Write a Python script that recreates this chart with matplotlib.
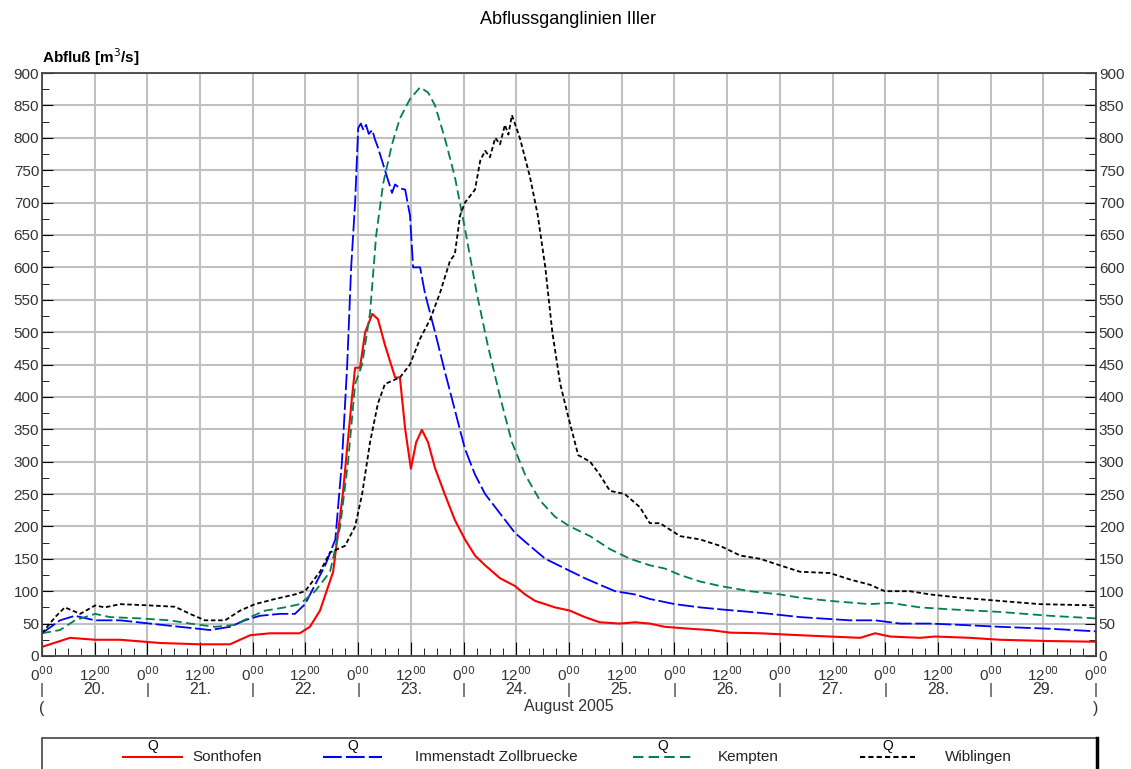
import matplotlib.pyplot as plt
from matplotlib.lines import Line2D
from matplotlib.patches import Rectangle
from matplotlib.ticker import MultipleLocator
import matplotlib.transforms as mtransforms

plt.rcParams['font.family'] = ['Liberation Sans', 'DejaVu Sans']

# Stunden seit 20.08.2005 0:00, Abfluss in m3/s
t_sont = [0, 6.4, 12.1, 17.8, 26.9, 36.0, 42.8, 45.1, 47.4, 51.9, 58.7, 61.0, 63.3, 66.3, 68.5, 70.6,
          71.3, 72.4, 73.6, 75.2, 76.5, 78.1, 80.4, 81.5, 82.7, 84.0, 85.2, 86.5, 87.9, 89.5, 91.7,
          94.0, 96.3, 98.6, 100.9, 104.3, 107.7, 110.0, 112.3, 116.8, 120.2, 123.6, 127.0, 131.6,
          135.0, 138.4, 141.8, 147.5, 152.1, 156.7, 163.5, 172.6, 179.4, 186.3, 189.7, 193.1,
          199.9, 203.3, 211.3, 218.1, 229.5, 240]
q_sont = [14, 28, 25, 25, 20, 18, 18, 25, 32, 35, 35, 45, 70, 130, 250, 400,
          445, 445, 500, 528, 520, 480, 430, 430, 350, 289, 330, 349, 330, 290, 250,
          210, 180, 155, 140, 120, 108, 95, 85, 75, 70, 60, 52, 50,
          52, 50, 45, 42, 40, 36, 35, 32, 30, 28, 35, 30,
          28, 30, 28, 25, 23, 22]

t_imm = [0, 4.1, 7.5, 12.1, 17.8, 24.6, 31.4, 38.3, 42.8, 46.2, 49.6, 54.2, 57.6, 59.9, 62.2, 64.5,
         66.8, 68.3, 69.5, 70.4, 71.3, 72.0, 72.6, 73.2, 73.8, 74.4, 75.2, 75.8, 76.5, 78.1, 79.7, 80.4,
         81.5, 82.7, 83.8, 84.5, 86.1, 87.2, 89.5, 91.7, 94.0, 96.3, 98.6, 100.9, 104.3, 107.7, 111.1,
         114.6, 119.1, 123.6, 127.0, 130.5, 135.0, 138.4, 144.1, 149.8, 154.4, 161.2, 165.8, 172.6,
         184.0, 189.7, 195.4, 202.2, 209.1, 218.1, 229.5, 240]
q_imm = [35, 55, 62, 55, 55, 50, 45, 40, 45, 55, 62, 65, 65, 80, 110, 140,
         180, 300, 450, 600, 700, 815, 822, 812, 820, 806, 812, 798, 785, 750, 715, 728,
         722, 720, 680, 600, 600, 560, 500, 440, 380, 320, 280, 250, 220, 190, 170,
         150, 135, 120, 110, 100, 95, 88, 80, 75, 72, 68, 65, 60,
         55, 55, 50, 50, 48, 45, 42, 38]

t_kem = [0, 4.1, 7.5, 12.1, 15.5, 22.3, 29.1, 33.7, 39.4, 43.9, 47.4, 50.8, 55.3, 58.7, 62.2, 65.6,
         67.9, 69.7, 71.3, 72.9, 74.7, 76.1, 77.7, 79.7, 81.5, 83.8, 86.1, 87.9, 89.5, 91.7, 94.0,
         96.3, 99.0, 101.5, 104.3, 107.0, 110.0, 113.4, 116.8, 120.2, 124.8, 129.3, 133.9, 138.4,
         141.8, 145.3, 149.8, 154.4, 161.2, 168.0, 172.6, 179.4, 188.5, 193.1, 199.9, 206.7,
         218.1, 229.5, 240]
q_kem = [35, 40, 55, 65, 60, 58, 55, 50, 45, 48, 60, 70, 75, 80, 100, 130,
         200, 300, 420, 450, 530, 650, 730, 790, 830, 860, 878, 870, 850, 800, 740,
         660, 560, 480, 400, 330, 280, 240, 215, 200, 185, 165, 150, 140,
         135, 125, 115, 108, 100, 95, 90, 85, 80, 82, 75, 72,
         68, 62, 58]

t_wib = [0, 3.0, 5.2, 8.7, 12.1, 14.3, 17.8, 24.6, 30.3, 33.7, 37.1, 41.7, 45.1, 48.5, 53.1, 57.6,
         59.9, 63.3, 65.6, 69.0, 71.3, 72.9, 74.7, 76.5, 78.1, 81.5, 83.8, 86.1, 88.4, 90.6, 92.9,
         94.0, 95.2, 96.3, 98.6, 99.8, 100.9, 102.0, 103.2, 104.3, 105.4, 106.2, 107.0, 108.8,
         111.1, 112.9, 114.6, 116.2, 118.0, 119.8, 122.1, 124.8, 127.0, 129.3, 132.7, 136.1,
         138.4, 140.7, 143.0, 145.3, 149.8, 154.4, 159.0, 163.5, 168.0, 172.6, 179.4, 184.0,
         188.5, 191.9, 197.6, 202.2, 209.1, 218.1, 227.2, 240]
q_wib = [35, 60, 75, 65, 78, 75, 80, 78, 76, 65, 55, 55, 70, 80, 88, 95,
         100, 130, 160, 170, 200, 250, 330, 390, 420, 430, 450, 490, 520, 560, 610,
         620, 680, 700, 720, 765, 780, 770, 800, 790, 820, 805, 835, 800,
         740, 680, 600, 500, 420, 370, 310, 300, 280, 255, 250, 230,
         205, 205, 195, 185, 180, 170, 155, 150, 140, 130, 128, 118,
         110, 100, 100, 95, 90, 85, 80, 78]

tage = ['20.', '21.', '22.', '23.', '24.', '25.', '26.', '27.', '28.', '29.']

fig = plt.figure(figsize=(11.31, 7.69), dpi=100)
ax = fig.add_axes([0.0371, 0.147, 0.932, 0.758])

ax.plot(t_sont, q_sont, color='#ff0000', lw=1.5)
ax.plot(t_imm, q_imm, color='#0000ff', lw=1.3, dashes=(9, 2))
ax.plot(t_kem, q_kem, color='#00804a', lw=1.3, dashes=(5, 2.5))
ax.plot(t_wib, q_wib, color='black', lw=1.3, dashes=(2.5, 1.5))

ax.set_xlim(0, 240)
ax.set_ylim(0, 900)
ax.yaxis.set_major_locator(MultipleLocator(50))
ax.yaxis.set_minor_locator(MultipleLocator(25))
ax.xaxis.set_major_locator(MultipleLocator(12))
ax.xaxis.set_minor_locator(MultipleLocator(3))
ax.grid(True, which='major', color='#c0c0c0', lw=1.5)
ax.set_axisbelow(True)

ax.tick_params(axis='y', which='both', direction='in', left=True, right=True,
               labelleft=True, labelright=True, labelsize=11, pad=2, labelcolor='#333333')
ax.tick_params(axis='y', which='major', length=8)
ax.tick_params(axis='y', which='minor', length=5)
ax.tick_params(axis='x', which='both', direction='in', top=False, labelsize=11, pad=7, labelcolor='#333333')
ax.tick_params(axis='x', which='major', length=10)
ax.tick_params(axis='x', which='minor', length=6)
ax.set_xticks(range(0, 241, 12))
ax.set_xticklabels(['0$^{00}$' if h % 24 == 0 else '12$^{00}$' for h in range(0, 241, 12)])
for s in ax.spines.values():
    s.set_color('#444444')
    s.set_linewidth(1.3)

trans = mtransforms.blended_transform_factory(ax.transData, fig.transFigure)
for h in range(0, 241, 24):
    ax.text(h, 1 - 690 / 769, '|', transform=trans, ha='center', va='center', fontsize=11, color='#333333')
for i, d in enumerate(tage):
    ax.text(12 + 24 * i, 1 - 690 / 769, d, transform=trans, ha='center', va='center', fontsize=11.5, color='#333333')
ax.text(0, 1 - 708 / 769, '(', transform=trans, ha='center', va='center', fontsize=11.5, color='#333333')
ax.text(240, 1 - 708 / 769, ')', transform=trans, ha='center', va='center', fontsize=11.5, color='#333333')
ax.text(120, 1 - 707 / 769, 'August 2005', transform=trans, ha='center', va='center', fontsize=11.5, color='#333333')

fig.text(0.502, 1 - 20 / 769, 'Abflussganglinien Iller', ha='center', va='center', fontsize=13)
fig.text(42 / 1131, 1 - 57 / 769, 'Abfluß [m$^3$/s]', ha='left', va='center', fontsize=11, fontweight='bold')

# Legende
fig.patches.append(Rectangle((42 / 1131, -0.05), (1097 - 42) / 1131, 0.05 + 31 / 769, transform=fig.transFigure,
                             fill=False, edgecolor='#444444', lw=1.2))
fig.lines.append(Line2D([1097 / 1131, 1097 / 1131], [0, 31 / 769], transform=fig.transFigure, color='black', lw=2.5))
eintraege = [('Sonthofen', '#ff0000', None, 123, 182, 192),
             ('Immenstadt Zollbruecke', '#0000ff', (9, 2), 323, 382, 415),
             ('Kempten', '#00804a', (5, 2.5), 633, 693, 718),
             ('Wiblingen', 'black', (2.5, 1.5), 860, 915, 945)]
for name, farbe, dash, x0, x1, xt in eintraege:
    ln = Line2D([x0 / 1131, x1 / 1131], [1 - 757 / 769] * 2, transform=fig.transFigure, color=farbe, lw=1.5)
    if dash:
        ln.set_dashes(dash)
    fig.lines.append(ln)
    fig.text((x0 + x1) / 2 / 1131, 1 - 746 / 769, 'Q', ha='center', va='center', fontsize=10)
    fig.text(xt / 1131, 1 - 757 / 769, name, ha='left', va='center', fontsize=11, color='#222222')

fig.savefig('out.png', dpi=100)
